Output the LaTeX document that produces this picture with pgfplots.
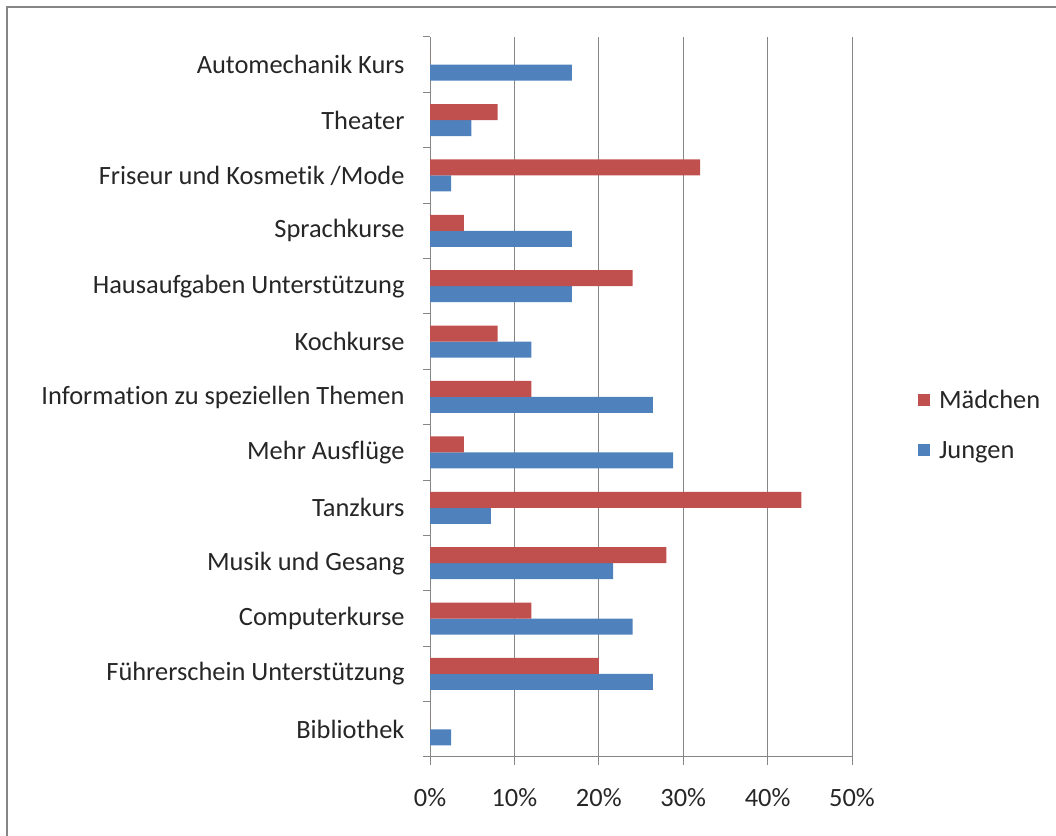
\documentclass[border=0pt]{standalone}
\usepackage{pgfplots}
\pgfplotsset{compat=1.18}
\usepackage{fontspec}
\setmainfont[Ligatures={NoCommon}]{Carlito}
\definecolor{mred}{HTML}{C0504D}
\definecolor{jblue}{HTML}{4F81BD}
\definecolor{gridgray}{HTML}{868686}
\begin{document}
\begin{tikzpicture}[x=1bp,y=1bp]
\useasboundingbox (0,0) rectangle (1056,836);
\draw[gridgray,line width=2bp] (7,0) -- (7,829) -- (1056,829);
\begin{axis}[
  at={(430bp,79bp)}, anchor=south west,
  scale only axis, width=422bp, height=720bp,
  xbar, bar width=16bp,
  xmin=0, xmax=50, ymin=-0.5, ymax=12.5,
  axis x line=bottom, axis y line=left,
  axis line style={-,gridgray,line width=1bp},
  xtick={0,10,...,50},
  xmajorgrids, major grid style={gridgray,line width=1bp},
  xticklabel={\pgfmathprintnumber{\tick}\%},
  /pgf/number format/assume math mode=true,
  xticklabel style={yshift=-28bp},
  ytick={0,...,12},
  yticklabels={Bibliothek,Führerschein Unterstützung,Computerkurse,Musik und Gesang,Tanzkurs,Mehr Ausflüge,Information zu speziellen Themen,Kochkurse,Hausaufgaben Unterstützung,Sprachkurse,Friseur und Kosmetik /Mode,Theater,Automechanik Kurs},
  minor ytick={-0.5,0.5,...,12.5},
  major tick length=0pt,
  minor tick length=7bp,
  tick align=outside,
  extra x ticks={0,10,...,50}, extra x tick labels={},
  extra x tick style={major tick length=8bp, tick style={gridgray,line width=1bp}, grid=none},
  minor tick style={gridgray,line width=1bp},
  yticklabel style={xshift=-22bp},
  ticklabel style={font=\fontsize{26.5}{30}\selectfont, text=black!85},
  legend style={at={(1.149,0.461)}, anchor=west, draw=none, fill=none,
    font=\fontsize{26.5}{30}\selectfont, text=black!85,
    row sep=27bp, cells={anchor=west}},
  reverse legend,
  legend image code/.code={\fill[#1,draw=none] (0bp,-6bp) rectangle (12bp,6bp); \path (19bp,0bp);},
]
\addplot[fill=jblue, draw=none, bar shift=-8bp] coordinates {
 (2.5,0) (26.4,1) (24,2) (21.7,3) (7.2,4) (28.8,5) (26.4,6) (12,7) (16.8,8) (16.8,9) (2.5,10) (4.9,11) (16.8,12)};
\addplot[fill=mred, draw=none, bar shift=8bp] coordinates {
 (0,0) (20,1) (12,2) (28,3) (44,4) (4,5) (12,6) (8,7) (24,8) (4,9) (32,10) (8,11) (0,12)};
\legend{Jungen,Mädchen}
\end{axis}
\end{tikzpicture}
\end{document}
